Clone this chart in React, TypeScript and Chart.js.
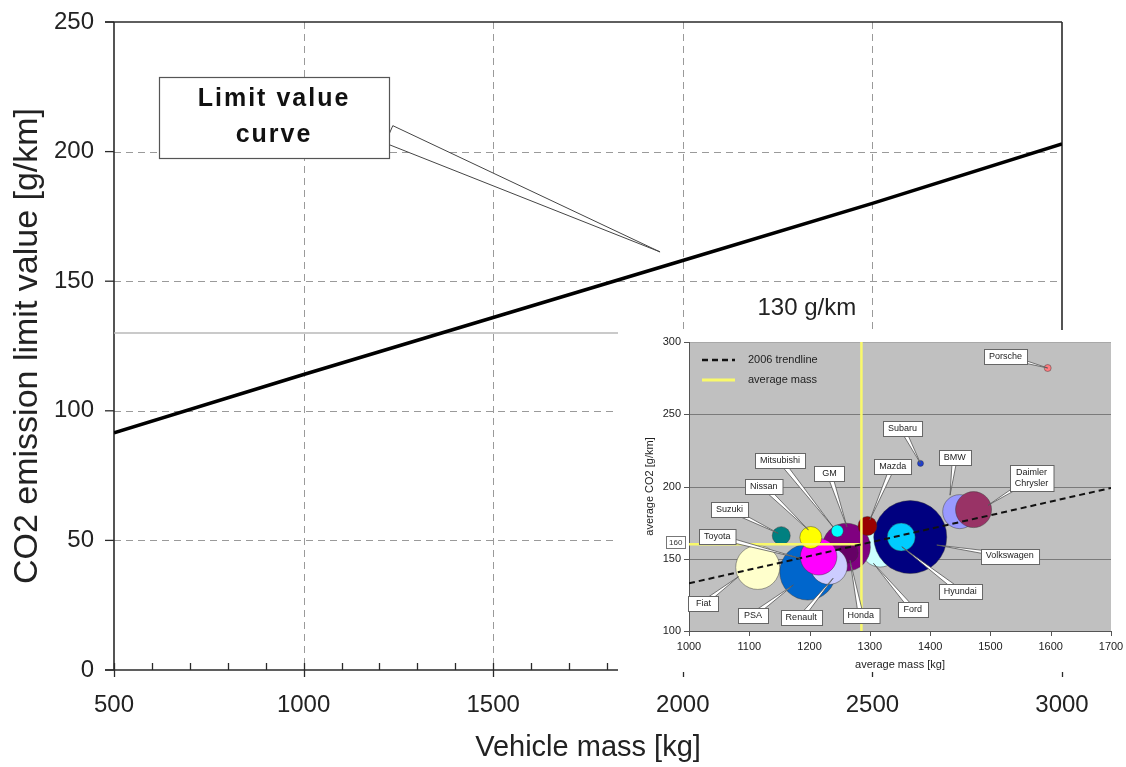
import React, { useEffect, useRef } from 'react';
import { Chart, registerables } from 'chart.js';

Chart.register(...registerables);

// ---------------- Main chart data ----------------
const vehicleMass = [500, 1000, 1500, 2000, 2500, 3000];
const limitValue = [91.5, 114, 136, 158, 180, 203];
const targetCO2 = 130;
const mainXTicks = [500, 1000, 1500, 2000, 2500, 3000];
const mainYTicks = [0, 50, 100, 150, 200, 250];

// ---------------- Inset (bubble) chart data ----------------
const companies = [
  'Ford', 'Volkswagen', 'Hyundai', 'BMW', 'Daimler\nChrysler', 'GM', 'Honda', 'PSA', 'Renault',
  'Fiat', 'Toyota', 'Nissan', 'Suzuki', 'Mitsubishi', 'Mazda', 'Subaru', 'Porsche',
];
const avgMass = [1317, 1367, 1352, 1449, 1472, 1261, 1264, 1197, 1232, 1114, 1215, 1202, 1153, 1246, 1296, 1384, 1595];
const avgCO2 = [157.4, 165, 165, 182.6, 184, 158, 154, 140.8, 145, 144, 151.4, 164.7, 166, 169.2, 172.7, 216, 282];
const bubbleSize = [19, 36.5, 14, 17, 18, 24, 10, 28, 18.5, 22, 18.3, 11, 9, 6, 9.5, 3, 3.5];
const trendMass = [1000, 1700];
const trendCO2 = [133, 199];
const averageMass = 1286;
const averageCO2 = 160;
const insetXTicks = [1000, 1100, 1200, 1300, 1400, 1500, 1600, 1700];
const insetYTicks = [100, 150, 200, 250, 300];

// colours of the bubbles (style, kept apart from the data)
const bubbleColors = [
  '#ccffff', '#000080', '#00ccff', '#9999ff', '#993366', '#800080', '#660066', '#0066cc', '#ccccff',
  '#ffffcc', '#ff00ff', '#ffff00', '#008080', '#00ffff', '#990000', '#1f3fcf', '#ff7c80',
];

// label placement for the inset call-outs (data coordinates of box centre and pointer tip)
const labelAtMass = [1371, 1532, 1450, 1441, 1568, 1233, 1285, 1106, 1186, 1024, 1047, 1124, 1067, 1151, 1338, 1354, 1525];
const labelAtCO2 = [115, 151.9, 127.2, 220, 205.7, 208.7, 111, 111, 109.5, 119.2, 165.3, 199.9, 184.2, 218.3, 214, 240, 290];
const pointerMass = [1306, 1411, 1353, 1433, 1496, 1262, 1267, 1173, 1239, 1082, 1184, 1198, 1148, 1239, 1300, 1384, 1595];
const pointerCO2 = [146.8, 159.5, 158.3, 194, 187, 172, 149, 131.8, 136.5, 137.6, 150.3, 170, 167.6, 172, 176.8, 216, 282];

const FONT = "'Liberation Sans', Arial, Helvetica, sans-serif";

function seg(ctx: CanvasRenderingContext2D, x1: number, y1: number, x2: number, y2: number) {
  ctx.beginPath();
  ctx.moveTo(x1, y1);
  ctx.lineTo(x2, y2);
  ctx.stroke();
}

function wedge(ctx: CanvasRenderingContext2D, bx: number, by: number, tx: number, ty: number, half: number, stroke: string, lw: number) {
  const dx = tx - bx;
  const dy = ty - by;
  const len = Math.hypot(dx, dy) || 1;
  const nx = (-dy / len) * half;
  const ny = (dx / len) * half;
  ctx.beginPath();
  ctx.moveTo(bx + nx, by + ny);
  ctx.lineTo(tx, ty);
  ctx.lineTo(bx - nx, by - ny);
  ctx.closePath();
  ctx.fillStyle = '#fff';
  ctx.fill();
  ctx.strokeStyle = stroke;
  ctx.lineWidth = lw;
  ctx.stroke();
}

function box(ctx: CanvasRenderingContext2D, cx: number, cy: number, w: number, h: number, stroke: string, lw: number) {
  const x = Math.round(cx - w / 2) + 0.5;
  const y = Math.round(cy - h / 2) + 0.5;
  ctx.fillStyle = '#fff';
  ctx.fillRect(x, y, w, h);
  ctx.strokeStyle = stroke;
  ctx.lineWidth = lw;
  ctx.strokeRect(x, y, w, h);
}

// ---------------- main chart decorations ----------------
const mainDecor = {
  id: 'mainDecor',
  beforeDatasetsDraw(chart: any) {
    const { ctx, chartArea: a, scales } = chart;
    const x = scales.x;
    const y = scales.y;
    ctx.save();
    ctx.strokeStyle = '#9a9a9a';
    ctx.lineWidth = 1;
    ctx.setLineDash([7, 5]);
    mainXTicks.slice(1, -1).forEach((v) => {
      const px = Math.round(x.getPixelForValue(v)) + 0.5;
      seg(ctx, px, a.top, px, a.bottom);
    });
    mainYTicks.slice(1, -1).forEach((v) => {
      const py = Math.round(y.getPixelForValue(v)) + 0.5;
      seg(ctx, a.left, py, a.right, py);
    });
    ctx.setLineDash([]);
    ctx.strokeStyle = '#2a2a2a';
    ctx.lineWidth = 1.6;
    seg(ctx, a.left, a.top, a.left, a.bottom);
    seg(ctx, a.left - 9, a.bottom, a.right, a.bottom);
    seg(ctx, a.left - 9, a.top, a.right, a.top);
    seg(ctx, a.right, a.top, a.right, a.bottom);
    ctx.lineWidth = 1.3;
    mainYTicks.forEach((v) => {
      const py = y.getPixelForValue(v);
      seg(ctx, a.left - 9, py, a.left, py);
    });
    for (let v = mainXTicks[0]; v <= mainXTicks[mainXTicks.length - 1]; v += 100) {
      const px = Math.round(x.getPixelForValue(v)) + 0.5;
      if (v % 500 === 0) seg(ctx, px, a.bottom - 7, px, a.bottom + 7);
      else seg(ctx, px, a.bottom - 7, px, a.bottom);
    }
    ctx.restore();
  },
  afterDatasetsDraw(chart: any) {
    const { ctx, scales } = chart;
    const x = scales.x;
    const y = scales.y;
    ctx.save();
    // "Limit value curve" call-out
    const cx = x.getPixelForValue(922);
    const cy = y.getPixelForValue(213.2);
    const w = 230;
    const h = 81;
    const tx = x.getPixelForValue(1940);
    const ty = y.getPixelForValue(161.3);
    wedge(ctx, cx + w / 2, cy + 17, tx, ty, 9.5, '#444', 1);
    box(ctx, cx, cy, w, h, '#555', 1.2);
    ctx.fillStyle = '#111';
    ctx.font = `bold 25px ${FONT}`;
    (ctx as any).letterSpacing = '2px';
    ctx.textAlign = 'center';
    ctx.textBaseline = 'middle';
    ctx.fillText('Limit value', cx, cy - 18);
    ctx.fillText('curve', cx, cy + 18);
    (ctx as any).letterSpacing = '0px';
    // 130 g/km label
    ctx.font = `24px ${FONT}`;
    ctx.fillStyle = '#222';
    ctx.fillText(`${targetCO2} g/km`, x.getPixelForValue(2327), y.getPixelForValue(139.7));
    ctx.restore();
  },
};

// ---------------- inset decorations ----------------
const insetDecor = {
  id: 'insetDecor',
  beforeDatasetsDraw(chart: any) {
    const { ctx, chartArea: a, scales } = chart;
    const x = scales.x;
    const y = scales.y;
    ctx.save();
    ctx.fillStyle = '#c0c0c0';
    ctx.fillRect(a.left, a.top, a.right - a.left, a.bottom - a.top);
    ctx.strokeStyle = '#7a7a7a';
    ctx.lineWidth = 1;
    insetYTicks.slice(1, -1).forEach((v) => {
      const py = Math.round(y.getPixelForValue(v)) + 0.5;
      seg(ctx, a.left, py, a.right, py);
    });
    ctx.strokeStyle = '#a8a8a8';
    const ptop = Math.round(a.top) + 0.5;
    seg(ctx, a.left, ptop, a.right, ptop);
    ctx.strokeStyle = '#555';
    seg(ctx, Math.round(a.left) + 0.5, a.top, Math.round(a.left) + 0.5, a.bottom);
    seg(ctx, a.left, Math.round(a.bottom) + 0.5, a.right, Math.round(a.bottom) + 0.5);
    insetYTicks.forEach((v) => {
      const py = Math.round(y.getPixelForValue(v)) + 0.5;
      seg(ctx, a.left - 5, py, a.left, py);
    });
    insetXTicks.forEach((v) => {
      const px = Math.round(x.getPixelForValue(v)) + 0.5;
      seg(ctx, px, a.bottom, px, a.bottom + 5);
    });
    ctx.restore();
  },
  afterDatasetsDraw(chart: any) {
    const { ctx, chartArea: a, scales } = chart;
    const x = scales.x;
    const y = scales.y;
    ctx.save();
    ctx.font = `9px ${FONT}`;
    ctx.textAlign = 'center';
    ctx.textBaseline = 'middle';
    companies.forEach((name, i) => {
      const lines = name.split('\n');
      const cx = x.getPixelForValue(labelAtMass[i]);
      const cy = y.getPixelForValue(labelAtCO2[i]);
      const tx = x.getPixelForValue(pointerMass[i]);
      const ty = y.getPixelForValue(pointerCO2[i]);
      const tw = Math.max(...lines.map((l) => ctx.measureText(l).width));
      const w = Math.max(tw + 10, 30);
      const h = lines.length * 11 + 4;
      wedge(ctx, cx, cy, tx, ty, 2.5, '#555', 0.8);
      box(ctx, cx, cy, w, h, '#666', 1);
      ctx.fillStyle = '#222';
      lines.forEach((l, k) => ctx.fillText(l, cx, cy + (k - (lines.length - 1) / 2) * 11));
    });
    // "160" value box on the axis
    const bx = x.getPixelForValue(978);
    const by = y.getPixelForValue(averageCO2 + 1.4);
    box(ctx, bx, by, 19, 12, '#777', 1);
    ctx.font = `8px ${FONT}`;
    ctx.fillStyle = '#333';
    ctx.fillText(String(averageCO2), bx, by + 0.5);
    // legend
    ctx.font = `11px ${FONT}`;
    ctx.textAlign = 'left';
    const items = chart.data.datasets.filter((d: any) => d.inLegend);
    items.forEach((d: any, k: number) => {
      const ly = a.top + 18 + k * 20;
      ctx.strokeStyle = d.borderColor;
      ctx.lineWidth = d.borderWidth + 0.5;
      ctx.setLineDash(d.borderDash || []);
      seg(ctx, a.left + 13, ly, a.left + 46, ly);
      ctx.setLineDash([]);
      ctx.fillStyle = '#222';
      ctx.fillText(d.label, a.left + 59, ly);
    });
    ctx.restore();
  },
};

function fitY(width: number) {
  return (s: any) => {
    s.width = width;
    s.paddingTop = 0;
    s.paddingBottom = 0;
  };
}

function fitX(height: number) {
  return (s: any) => {
    s.height = height;
    s.paddingLeft = 0;
    s.paddingRight = 0;
  };
}

export default function App() {
  const mainRef = useRef<HTMLCanvasElement>(null);
  const insetRef = useRef<HTMLCanvasElement>(null);

  useEffect(() => {
    const main = new Chart(mainRef.current as HTMLCanvasElement, {
      type: 'line',
      data: {
        datasets: [
          {
            label: 'Limit value curve',
            data: vehicleMass.map((m, i) => ({ x: m, y: limitValue[i] })),
            borderColor: '#000',
            borderWidth: 3.5,
            pointRadius: 0,
            tension: 0,
          },
          {
            label: '130 g/km',
            data: [
              { x: vehicleMass[0], y: targetCO2 },
              { x: vehicleMass[vehicleMass.length - 1], y: targetCO2 },
            ],
            borderColor: '#b8b8b8',
            borderWidth: 1.5,
            pointRadius: 0,
          },
        ],
      },
      options: {
        responsive: false,
        animation: false,
        devicePixelRatio: 1,
        layout: { padding: { top: 22, right: 64, left: 0, bottom: 0 } },
        plugins: { legend: { display: false }, tooltip: { enabled: false } },
        scales: {
          x: {
            type: 'linear',
            min: mainXTicks[0],
            max: mainXTicks[mainXTicks.length - 1],
            afterBuildTicks: (s: any) => {
              s.ticks = mainXTicks.map((v) => ({ value: v }));
            },
            afterFit: fitX(97),
            grid: { display: false, drawTicks: false },
            border: { display: false },
            ticks: {
              font: { family: FONT, size: 24 },
              color: '#222',
              padding: 21,
              maxRotation: 0,
              autoSkip: false,
              callback: (v: any) => String(v),
            },
            title: {
              display: true,
              text: 'Vehicle mass [kg]',
              font: { family: FONT, size: 29 },
              color: '#222',
              padding: { top: 0, bottom: 2 },
            },
          },
          y: {
            type: 'linear',
            min: mainYTicks[0],
            max: mainYTicks[mainYTicks.length - 1],
            afterBuildTicks: (s: any) => {
              s.ticks = mainYTicks.map((v) => ({ value: v }));
            },
            afterFit: fitY(114),
            grid: { display: false, drawTicks: false },
            border: { display: false },
            ticks: {
              font: { family: FONT, size: 24 },
              color: '#222',
              padding: 20,
              callback: (v: any) => String(v),
            },
            title: {
              display: true,
              text: 'CO2 emission limit value [g/km]',
              font: { family: FONT, size: 34 },
              color: '#222',
              padding: { top: 7, bottom: 0 },
            },
          },
        },
      },
      plugins: [mainDecor],
    } as any);

    const inset = new Chart(insetRef.current as HTMLCanvasElement, {
      type: 'bubble',
      data: {
        datasets: [
          {
            type: 'line',
            label: '2006 trendline',
            inLegend: true,
            data: trendMass.map((m, i) => ({ x: m, y: trendCO2[i] })),
            borderColor: '#111',
            borderWidth: 2,
            borderDash: [6, 4],
            pointRadius: 0,
          },
          {
            type: 'line',
            label: 'average mass',
            inLegend: true,
            data: [
              { x: averageMass, y: insetYTicks[0] },
              { x: averageMass, y: insetYTicks[insetYTicks.length - 1] },
            ],
            borderColor: '#f9f96a',
            borderWidth: 2.5,
            pointRadius: 0,
          },
          {
            type: 'line',
            label: 'average CO2',
            data: [
              { x: insetXTicks[0], y: averageCO2 },
              { x: averageMass, y: averageCO2 },
            ],
            borderColor: '#f9f96a',
            borderWidth: 2.5,
            pointRadius: 0,
          },
          {
            label: 'manufacturers',
            data: avgMass.map((m, i) => ({ x: m, y: avgCO2[i], r: bubbleSize[i] })),
            backgroundColor: bubbleColors,
            borderColor: 'rgba(50,50,50,0.55)',
            borderWidth: 0.8,
          },
        ],
      },
      options: {
        responsive: false,
        animation: false,
        devicePixelRatio: 1,
        layout: { padding: { top: 12, right: 15, left: 0, bottom: 0 } },
        plugins: { legend: { display: false }, tooltip: { enabled: false } },
        scales: {
          x: {
            type: 'linear',
            min: insetXTicks[0],
            max: insetXTicks[insetXTicks.length - 1],
            afterBuildTicks: (s: any) => {
              s.ticks = insetXTicks.map((v) => ({ value: v }));
            },
            afterFit: fitX(41),
            grid: { display: false, drawTicks: false },
            border: { display: false },
            ticks: {
              font: { family: FONT, size: 11 },
              color: '#222',
              padding: 9,
              maxRotation: 0,
              autoSkip: false,
              callback: (v: any) => String(v),
            },
            title: {
              display: true,
              text: 'average mass [kg]',
              font: { family: FONT, size: 11 },
              color: '#222',
              padding: { top: 0, bottom: 0 },
            },
          },
          y: {
            type: 'linear',
            min: insetYTicks[0],
            max: insetYTicks[insetYTicks.length - 1],
            afterBuildTicks: (s: any) => {
              s.ticks = insetYTicks.map((v) => ({ value: v }));
            },
            afterFit: fitY(71),
            grid: { display: false, drawTicks: false },
            border: { display: false },
            ticks: {
              font: { family: FONT, size: 11 },
              color: '#222',
              padding: 8,
              callback: (v: any) => String(v),
            },
            title: {
              display: true,
              text: 'average CO2 [g/km]',
              font: { family: FONT, size: 11 },
              color: '#222',
              padding: { top: 25, bottom: 0 },
            },
          },
        },
      },
      plugins: [insetDecor],
    } as any);

    // bubbles may overlap the plot edge as in the original; do not let them shrink the plot area
    inset.data.datasets.forEach((_: any, i: number) => {
      const meta: any = inset.getDatasetMeta(i);
      if (meta && meta.controller) meta.controller.getMaxOverflow = () => 0;
    });
    inset.update();

    return () => {
      main.destroy();
      inset.destroy();
    };
  }, []);

  return (
    <div style={{ position: 'absolute', left: 0, top: 0, width: 1126, height: 767, background: '#fff' }}>
      <canvas
        ref={mainRef}
        width={1126}
        height={767}
        style={{ position: 'absolute', left: 0, top: 0, width: 1126, height: 767 }}
      />
      <div style={{ position: 'absolute', left: 618, top: 330, width: 508, height: 342, background: '#fff' }}>
        <canvas ref={insetRef} width={508} height={342} style={{ display: 'block', width: 508, height: 342 }} />
      </div>
    </div>
  );
}
